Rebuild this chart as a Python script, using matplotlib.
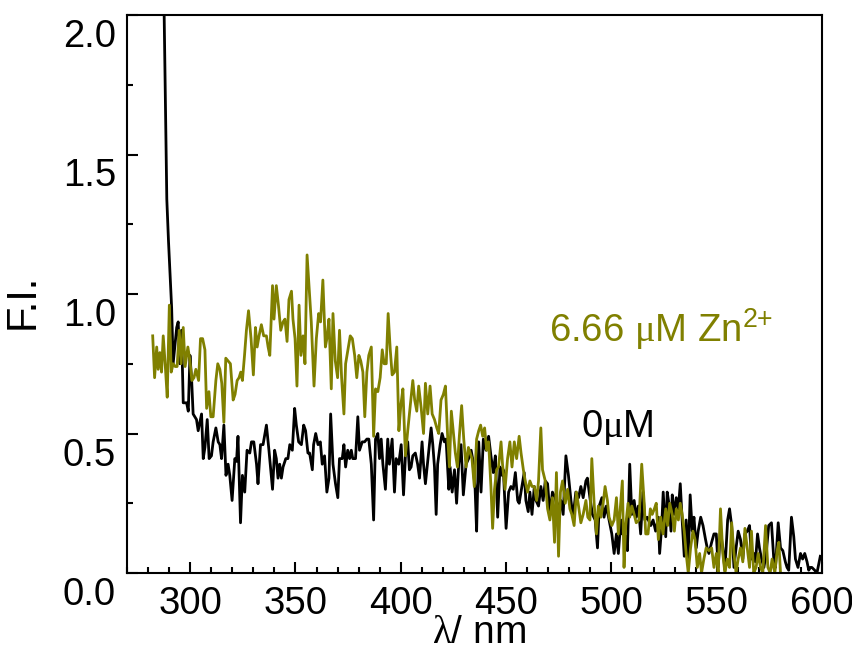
import matplotlib
matplotlib.use("Agg")
import matplotlib.pyplot as plt
from matplotlib.ticker import MultipleLocator
from matplotlib.transforms import ScaledTranslation

plt.rcParams['font.family'] = ['Liberation Sans', 'DejaVu Sans']
plt.rcParams['mathtext.fontset'] = 'custom'
plt.rcParams['mathtext.rm'] = 'Liberation Sans'
plt.rcParams['mathtext.it'] = 'Liberation Sans:italic'
# serif Greek letters, like the Symbol font of the original
plt.rcParams['mathtext.sf'] = 'Liberation Serif'

# 0 uM spectrum
black_nm = [
    286.5, 288.9, 289.7, 291.2, 291.9, 293.6, 294.3, 295.1, 295.9, 296.7,
    298.3, 299.1, 299.9, 300.7, 301.4, 303.0, 303.8, 304.6, 305.4, 306.2,
    307.0, 308.1, 309.0, 310.1, 310.9, 312.2, 313.3, 314.1, 314.9, 316.0,
    317.0, 318.0, 318.8, 319.9, 321.2, 322.0, 322.7, 323.9, 324.8, 325.9,
    327.0, 328.3, 329.1, 330.2, 331.5, 332.2, 333.4, 334.6, 336.2, 337.4,
    339.1, 340.1, 340.9, 341.7, 342.5, 343.3, 344.1, 345.4, 346.4, 347.3,
    348.5, 349.6, 350.4, 351.5, 352.8, 353.9, 354.8, 355.9, 356.7, 358.0,
    358.6, 359.6, 360.7, 361.8, 362.7, 363.8, 364.9, 365.9, 366.7, 367.8,
    369.0, 370.1, 370.9, 372.2, 373.0, 373.8, 374.8, 375.7, 376.5, 377.2,
    378.5, 379.6, 380.4, 381.7, 382.8, 383.9, 384.8, 386.0, 387.1, 388.0,
    389.1, 389.9, 390.7, 391.5, 392.7, 393.8, 394.6, 395.9, 397.0, 397.8,
    399.0, 400.2, 401.3, 402.2, 403.3, 404.1, 404.9, 405.7, 406.9, 408.0,
    408.9, 410.1, 410.8, 411.7, 412.5, 413.6, 414.4, 415.2, 416.0, 416.8,
    417.5, 418.7, 419.6, 420.7, 421.5, 422.8, 423.4, 424.4, 425.5, 426.5,
    427.5, 428.6, 429.7, 431.0, 432.2, 433.4, 434.1, 435.3, 436.0, 437.0,
    438.1, 439.2, 440.5, 441.7, 442.8, 443.9, 444.9, 446.0, 447.1, 448.1,
    448.7, 450.0, 451.2, 452.3, 453.4, 454.4, 455.5, 456.2, 457.5, 458.6,
    459.4, 460.5, 461.3, 462.3, 463.4, 464.2, 465.4, 466.5, 467.6, 468.6,
    469.7, 470.8, 472.0, 473.3, 474.4, 476.0, 477.1, 478.4, 479.6, 480.8,
    481.8, 483.1, 484.4, 485.5, 486.6, 487.9, 488.6, 489.8, 491.0, 492.3,
    493.4, 494.2, 495.5, 496.5, 497.6, 498.9, 500.2, 501.3, 502.4, 503.3,
    504.5, 505.2, 506.8, 507.6, 508.7, 509.7, 510.8, 511.8, 512.8, 513.9,
    515.0, 515.9, 517.0, 518.7, 519.8, 521.0, 522.3, 522.9, 523.9, 524.6,
    525.8, 526.5, 527.3, 528.3, 528.9, 529.7, 530.8, 531.8, 532.7, 533.6,
    534.6, 535.5, 536.5, 537.4, 538.4, 539.2, 540.3, 541.2, 542.4, 543.5,
    544.7, 545.5, 546.3, 547.6, 548.7, 549.8, 550.7, 551.8, 552.9, 553.9,
    555.2, 556.1, 557.1, 558.2, 559.2, 560.2, 561.3, 562.4, 563.4, 564.5,
    565.6, 566.5, 567.6, 568.4, 569.4, 570.3, 571.3, 572.4, 573.5, 574.7,
    576.0, 577.1, 577.9, 579.2, 580.3, 581.4, 582.6, 583.4, 584.2, 585.5,
    586.6, 587.4, 588.6, 589.8, 590.8, 591.8, 592.9, 593.7, 594.5, 595.2,
    596.5, 597.6, 599.2,
]
black_fi = [
    2.60, 1.34, 1.19, 0.95, 0.75, 0.88, 0.90, 0.75, 0.87, 0.61,
    0.61, 0.58, 0.78, 0.69, 0.57, 0.55, 0.51, 0.54, 0.57, 0.41,
    0.45, 0.55, 0.41, 0.42, 0.47, 0.52, 0.47, 0.46, 0.41, 0.53,
    0.35, 0.39, 0.35, 0.26, 0.41, 0.40, 0.49, 0.18, 0.35, 0.29,
    0.44, 0.43, 0.47, 0.47, 0.39, 0.32, 0.46, 0.46, 0.53, 0.44,
    0.30, 0.44, 0.41, 0.34, 0.39, 0.34, 0.38, 0.41, 0.41, 0.46,
    0.44, 0.59, 0.53, 0.47, 0.46, 0.53, 0.51, 0.43, 0.43, 0.37,
    0.46, 0.50, 0.46, 0.47, 0.39, 0.42, 0.29, 0.34, 0.57, 0.39,
    0.32, 0.27, 0.41, 0.41, 0.46, 0.38, 0.44, 0.41, 0.44, 0.41,
    0.41, 0.56, 0.44, 0.47, 0.47, 0.48, 0.48, 0.39, 0.19, 0.48,
    0.50, 0.41, 0.48, 0.39, 0.30, 0.48, 0.39, 0.48, 0.29, 0.41,
    0.39, 0.46, 0.28, 0.42, 0.47, 0.37, 0.38, 0.42, 0.43, 0.39,
    0.34, 0.47, 0.39, 0.32, 0.38, 0.46, 0.52, 0.46, 0.38, 0.21,
    0.39, 0.46, 0.50, 0.47, 0.48, 0.30, 0.38, 0.29, 0.37, 0.25,
    0.39, 0.46, 0.28, 0.39, 0.41, 0.44, 0.41, 0.30, 0.15, 0.47,
    0.29, 0.48, 0.44, 0.49, 0.42, 0.36, 0.42, 0.20, 0.38, 0.35,
    0.37, 0.16, 0.29, 0.31, 0.30, 0.36, 0.26, 0.25, 0.31, 0.36,
    0.26, 0.22, 0.29, 0.21, 0.31, 0.26, 0.24, 0.31, 0.26, 0.33,
    0.32, 0.21, 0.29, 0.27, 0.23, 0.26, 0.21, 0.42, 0.35, 0.26,
    0.20, 0.29, 0.27, 0.31, 0.27, 0.33, 0.34, 0.27, 0.21, 0.19,
    0.09, 0.24, 0.27, 0.20, 0.24, 0.19, 0.14, 0.07, 0.14, 0.07,
    0.19, 0.14, 0.13, 0.08, 0.39, 0.21, 0.26, 0.20, 0.24, 0.14,
    0.29, 0.19, 0.20, 0.17, 0.19, 0.15, 0.20, 0.07, 0.17, 0.29,
    0.13, 0.29, 0.25, 0.15, 0.28, 0.21, 0.27, 0.23, 0.32, 0.19,
    0.06, 0.19, 0.05, 0.28, 0.15, 0.20, 0.09, 0.15, 0.20, 0.17,
    0.12, 0.09, 0.07, 0.11, 0.14, 0.14, 0.02, 0.15, 0.09, 0.01,
    0.19, 0.23, 0.17, 0.02, 0.09, 0.15, 0.12, 0.05, 0.14, 0.15,
    0.17, 0.05, 0.07, 0.04, 0.14, 0.09, 0.05, 0.02, 0.07, 0.17,
    0.18, 0.05, 0.02, 0.18, 0.09, 0.08, 0.04, 0.02, 0.01, 0.20,
    0.13, 0.05, 0.02, 0.07, 0.05, 0.07, 0.04, 0.01, 0.02, 0.02,
    0.01, 0.00, 0.06,
]

# 6.66 uM Zn2+ spectrum
olive_nm = [
    282.2, 283.1, 284.1, 284.8, 285.6, 286.4, 287.2, 288.2, 289.1, 290.1,
    291.0, 291.9, 292.9, 293.8, 294.8, 295.7, 296.7, 297.6, 298.9, 299.9,
    300.8, 301.8, 302.7, 304.0, 304.9, 305.9, 307.0, 307.8, 308.9, 309.8,
    310.9, 312.2, 313.1, 314.1, 315.0, 316.0, 316.9, 318.0, 319.1, 320.4,
    321.3, 322.3, 323.2, 324.0, 324.8, 325.8, 326.7, 327.7, 328.9, 330.0,
    331.0, 331.8, 332.7, 333.8, 334.9, 336.2, 337.0, 337.8, 339.1, 339.8,
    340.9, 341.9, 343.0, 344.1, 345.0, 346.0, 346.9, 348.1, 348.8, 349.8,
    350.7, 351.7, 352.6, 353.6, 354.5, 355.5, 357.5, 358.8, 359.9, 361.0,
    361.9, 363.0, 364.2, 364.9, 365.9, 367.0, 367.8, 368.9, 370.0, 370.9,
    371.9, 373.0, 373.8, 374.9, 376.0, 377.0, 378.1, 379.1, 380.1, 381.0,
    382.0, 382.9, 383.9, 384.8, 386.0, 387.1, 388.0, 389.1, 390.2, 391.2,
    392.1, 393.1, 394.0, 395.0, 395.9, 397.0, 398.1, 399.1, 400.0, 401.0,
    402.2, 403.3, 404.5, 405.7, 406.6, 407.6, 408.5, 409.7, 410.8, 411.7,
    412.8, 413.9, 414.9, 416.0, 417.1, 418.0, 419.1, 420.2, 421.2, 422.3,
    423.1, 424.0, 425.0, 425.9, 426.9, 427.8, 428.9, 429.9, 431.0, 432.1,
    433.8, 434.9, 436.0, 437.0, 437.9, 438.9, 439.8, 440.8, 441.7, 442.8,
    443.6, 444.5, 445.5, 446.4, 447.6, 448.3, 449.5, 450.7, 451.8, 452.8,
    453.9, 455.0, 456.2, 457.1, 458.2, 459.1, 460.2, 461.3, 462.3, 463.4,
    464.5, 465.4, 466.5, 467.3, 468.6, 469.7, 470.8, 472.0, 473.0, 473.9,
    474.9, 475.8, 476.8, 478.1, 479.2, 480.3, 481.2, 482.3, 483.4, 484.4,
    485.5, 486.6, 487.9, 488.8, 489.8, 490.7, 491.8, 492.9, 493.8, 495.0,
    496.1, 497.0, 498.1, 498.9, 500.2, 501.3, 502.4, 503.3, 504.5, 505.2,
    506.0, 506.8, 507.9, 508.7, 509.7, 510.8, 511.8, 513.1, 514.4, 515.5,
    516.3, 517.4, 518.5, 519.4, 520.4, 521.3, 522.3, 523.4, 524.5, 525.8,
    526.7, 527.7, 528.9, 529.9, 530.8, 531.8, 532.7, 533.6, 534.6, 535.5,
    536.5, 537.6, 538.7, 539.7, 540.8, 541.9, 542.8, 543.9, 545.0, 546.3,
    547.6, 548.7, 549.8, 550.7, 551.8, 552.9, 553.9, 555.0, 556.1, 557.1,
    558.2, 559.2, 560.2, 561.3, 562.4, 563.4, 564.5, 565.6, 566.5, 567.6,
    568.7, 569.7, 570.8, 571.9, 573.2, 574.3, 575.4, 576.3, 577.6, 578.7,
    579.5, 580.3,
]
olive_fi = [
    0.85, 0.70, 0.81, 0.73, 0.79, 0.72, 0.85, 0.74, 0.63, 0.96,
    0.72, 0.75, 0.74, 0.74, 0.87, 0.75, 0.88, 0.74, 0.81, 0.76,
    0.69, 0.70, 0.73, 0.69, 0.84, 0.84, 0.80, 0.59, 0.65, 0.56,
    0.56, 0.69, 0.75, 0.73, 0.68, 0.54, 0.77, 0.76, 0.75, 0.62,
    0.64, 0.69, 0.70, 0.72, 0.69, 0.78, 0.87, 0.94, 0.84, 0.71,
    0.88, 0.81, 0.85, 0.89, 0.85, 0.85, 0.81, 0.78, 1.03, 0.91,
    1.03, 0.96, 0.87, 0.90, 0.91, 0.83, 0.98, 1.01, 0.91, 0.84,
    0.67, 0.96, 0.78, 0.85, 0.75, 1.14, 0.90, 0.67, 0.84, 0.93,
    0.90, 1.05, 0.81, 0.84, 0.91, 0.66, 0.93, 0.76, 0.70, 0.87,
    0.70, 0.57, 0.75, 0.80, 0.85, 0.84, 0.78, 0.70, 0.78, 0.76,
    0.72, 0.56, 0.72, 0.78, 0.81, 0.49, 0.66, 0.65, 0.70, 0.80,
    0.75, 0.75, 0.93, 0.80, 0.71, 0.72, 0.81, 0.51, 0.60, 0.66,
    0.42, 0.51, 0.60, 0.69, 0.62, 0.58, 0.67, 0.59, 0.50, 0.68,
    0.57, 0.67, 0.57, 0.55, 0.52, 0.50, 0.62, 0.64, 0.67, 0.48,
    0.38, 0.58, 0.50, 0.43, 0.38, 0.49, 0.60, 0.48, 0.38, 0.45,
    0.41, 0.31, 0.48, 0.51, 0.53, 0.49, 0.52, 0.44, 0.47, 0.31,
    0.16, 0.30, 0.37, 0.38, 0.47, 0.39, 0.30, 0.41, 0.47, 0.38,
    0.47, 0.41, 0.49, 0.43, 0.37, 0.33, 0.29, 0.33, 0.31, 0.31,
    0.26, 0.33, 0.52, 0.37, 0.33, 0.23, 0.19, 0.27, 0.11, 0.36,
    0.06, 0.29, 0.33, 0.25, 0.30, 0.23, 0.21, 0.17, 0.29, 0.24,
    0.18, 0.21, 0.26, 0.20, 0.19, 0.41, 0.25, 0.14, 0.24, 0.20,
    0.25, 0.31, 0.26, 0.20, 0.17, 0.19, 0.27, 0.14, 0.26, 0.33,
    0.02, 0.17, 0.25, 0.20, 0.24, 0.21, 0.18, 0.19, 0.39, 0.26,
    0.14, 0.14, 0.23, 0.21, 0.23, 0.25, 0.12, 0.20, 0.14, 0.23,
    0.17, 0.25, 0.21, 0.15, 0.23, 0.19, 0.25, 0.21, 0.15, 0.07,
    0.00, 0.09, 0.15, 0.12, 0.02, 0.07, 0.00, 0.05, 0.09, 0.08,
    0.09, 0.02, 0.07, 0.00, 0.23, 0.07, 0.00, 0.05, 0.02, 0.18,
    0.07, 0.00, 0.05, 0.09, 0.04, 0.16, 0.09, 0.02, 0.15, 0.00,
    0.02, 0.07, 0.02, 0.00, 0.17, 0.02, 0.00, 0.05, 0.00, 0.08,
    0.11, 0.00,
]

xticks = [300, 350, 400, 450, 500, 550, 600]
yticks = [0.0, 0.5, 1.0, 1.5, 2.0]
olive = '#808000'

fig = plt.figure(figsize=(8.53, 6.48), dpi=100)
ax = fig.add_axes([127 / 853, 75 / 648, 695 / 853, 558 / 648])

ax.plot(black_nm, black_fi, color='black', lw=2.0)
ax.plot(olive_nm, olive_fi, color=olive, lw=2.0)

ax.set_xlim(270, 600)
ax.set_ylim(0, 2.0)
ax.set_xticks(xticks)
ax.set_yticks(yticks)
ax.set_yticklabels(['%.1f' % v for v in yticks])
ax.xaxis.set_minor_locator(MultipleLocator(10))
ax.yaxis.set_minor_locator(MultipleLocator(0.25))
ax.tick_params(which='both', direction='in', top=False, right=False,
               labelsize=27.5, width=1.5)
ax.tick_params(which='major', length=8)
ax.tick_params(which='minor', length=4.5)
ax.tick_params(axis='x', pad=9)
ax.tick_params(axis='y', pad=8)
for sp in ax.spines.values():
    sp.set_linewidth(1.5)

# the y tick labels sit a little below their ticks in the original
shift = ScaledTranslation(0, -18 / 100, fig.dpi_scale_trans)
for lab in ax.get_yticklabels():
    lab.set_transform(lab.get_transform() + shift)

ax.set_xlabel(r'$\mathsf{\lambda}$/ nm', fontsize=28)
ax.xaxis.set_label_coords(0.506, -0.076)
ax.set_ylabel('F.I.', fontsize=30)
ax.yaxis.set_label_coords(-0.121, 0.486)

ax.text(470.5, 0.828, r'6.66 $\mathsf{\mu}$M Zn$^{2{+}}$', color=olive,
        fontsize=27.5, ha='left', va='baseline')
ax.text(485.6, 0.487, r'0$\mathsf{\mu}$M', color='black', fontsize=27.5,
        ha='left', va='baseline')

fig.savefig('out.png', dpi=100)
